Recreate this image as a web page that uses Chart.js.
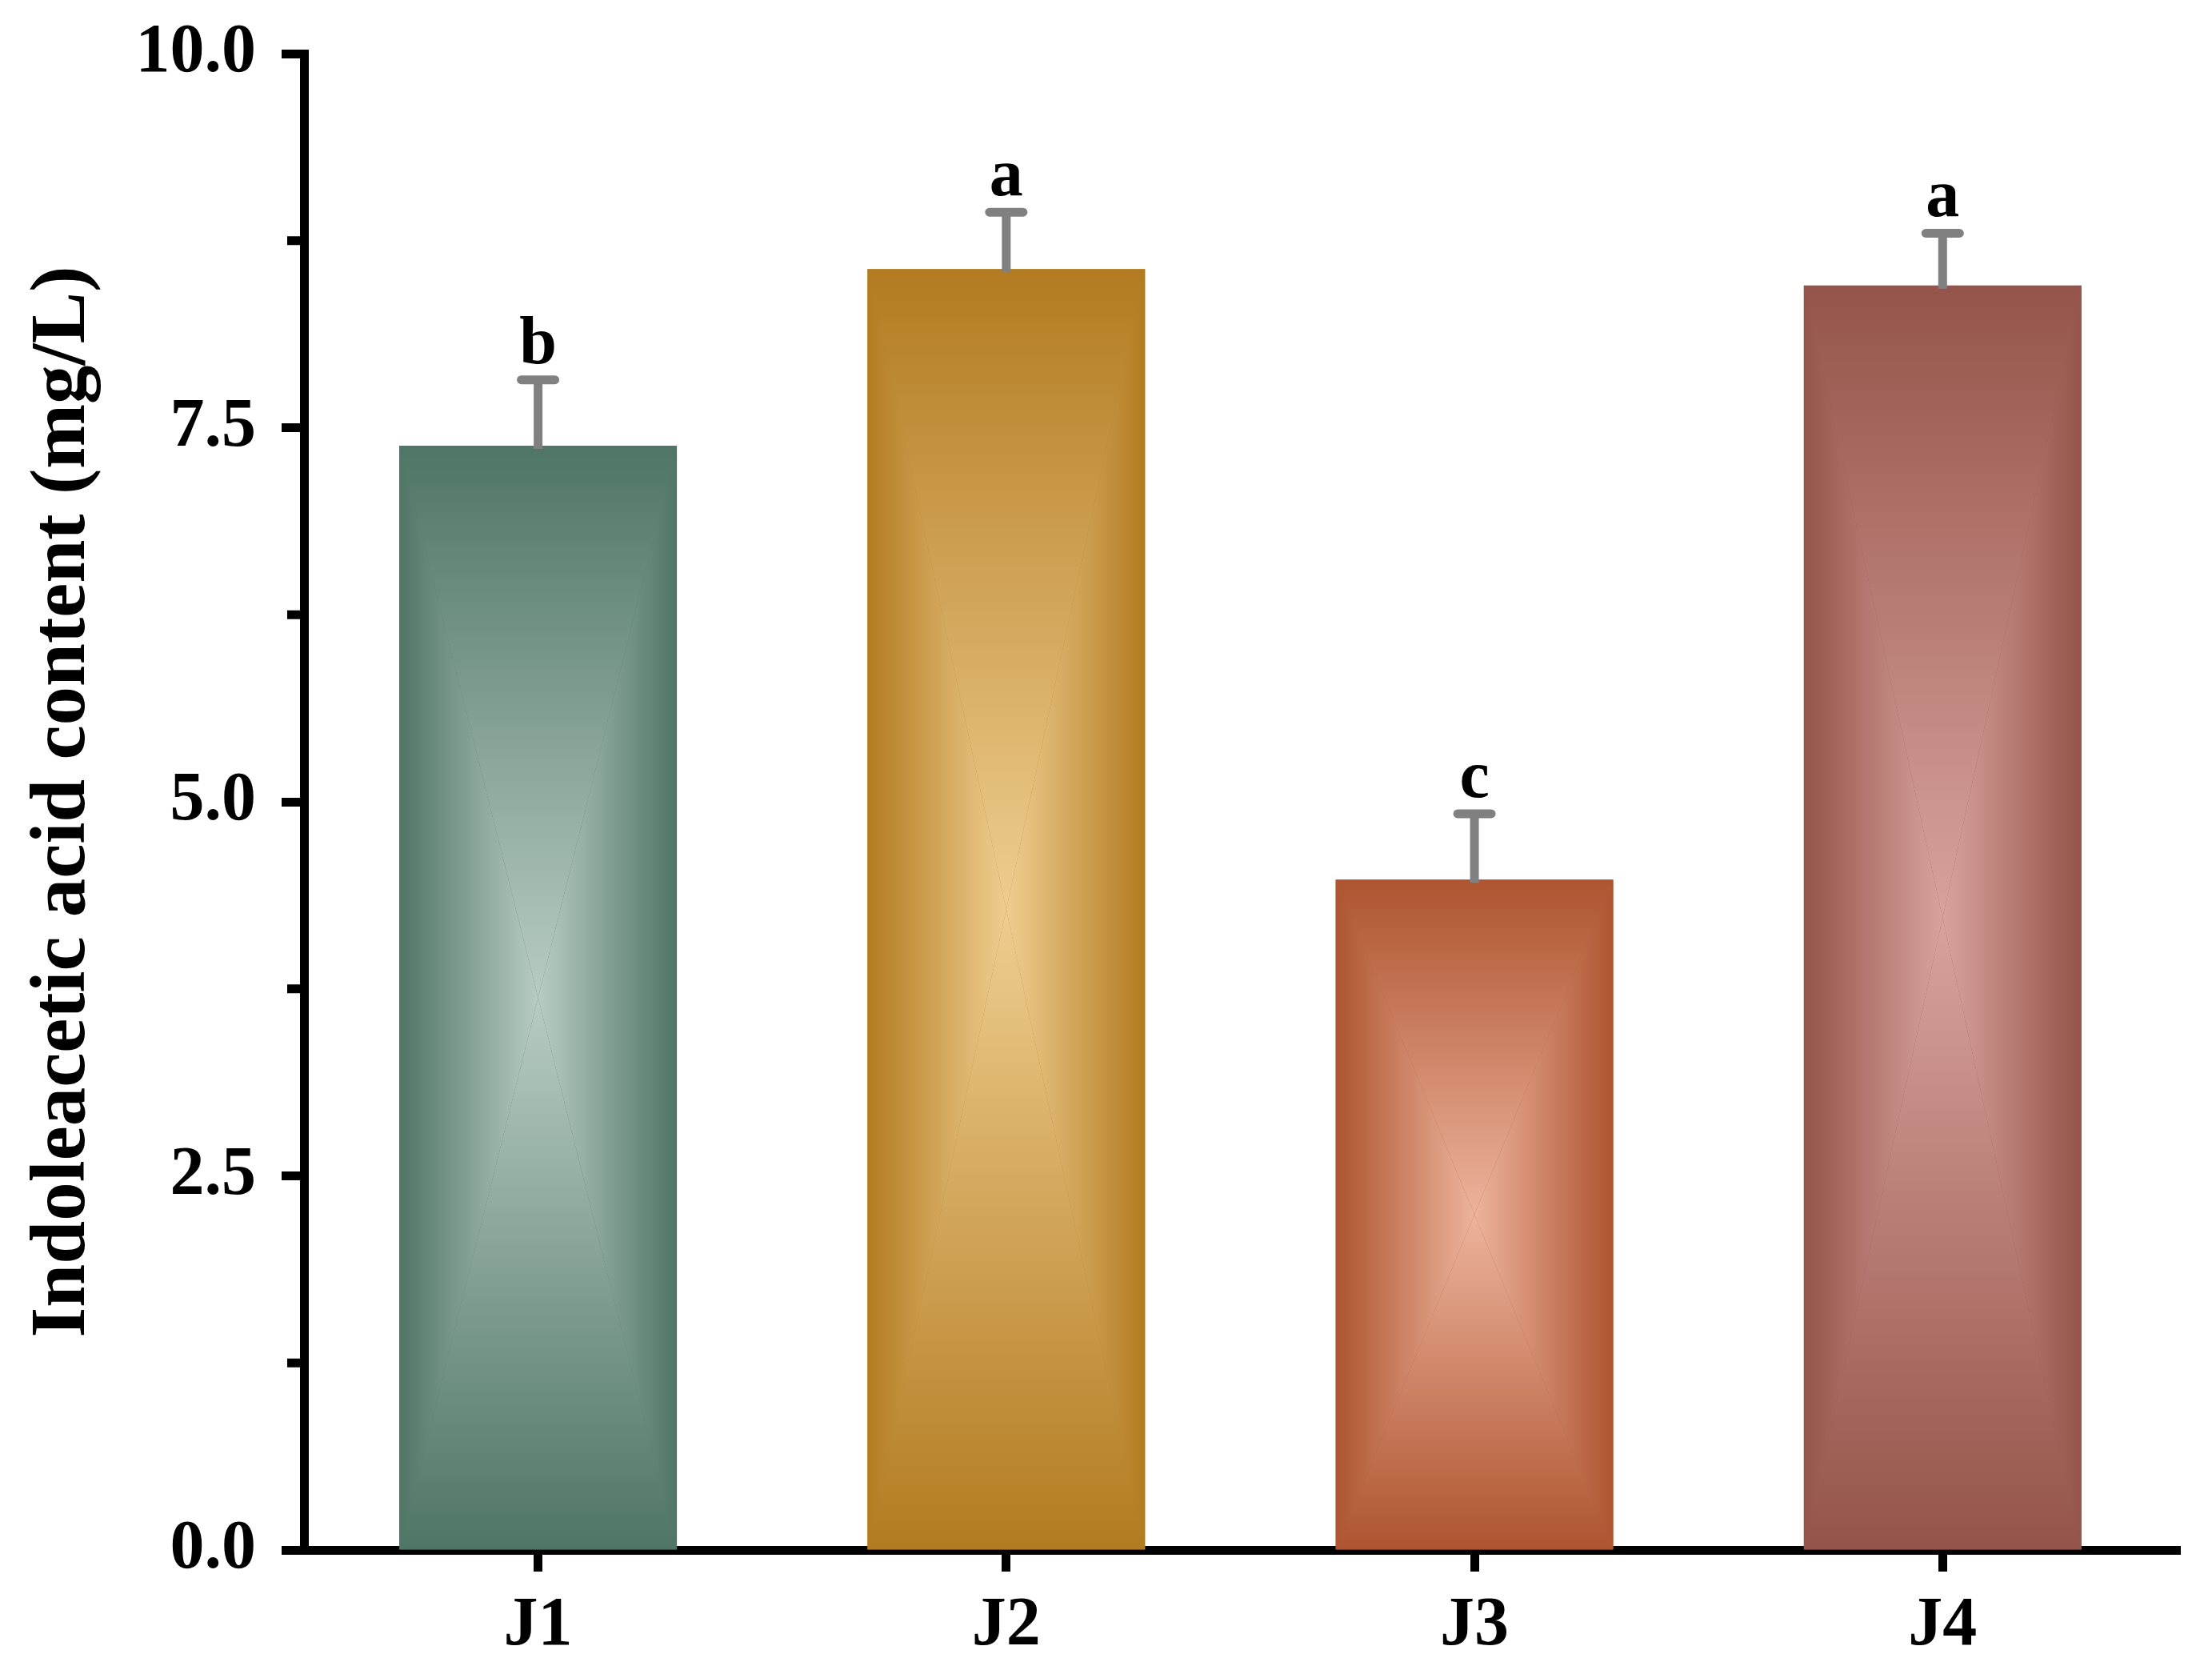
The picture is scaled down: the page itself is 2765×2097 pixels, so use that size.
<!DOCTYPE html>
<html>
<head>
<meta charset="utf-8">
<script src="https://cdn.jsdelivr.net/npm/chart.js@4.4.1/dist/chart.umd.min.js"></script>
<style>
  html,body{margin:0;padding:0;background:#fff;}
  canvas{display:block;}
</style>
</head>
<body>
<canvas id="iaa" width="2765" height="2097"></canvas>
<script>
// data
const groups = ['J1', 'J2', 'J3', 'J4'];
const iaaMeans = [7.38, 8.56, 4.48, 8.45];
const iaaErrors = [0.44, 0.38, 0.44, 0.35];
const sigLetters = ['b', 'a', 'c', 'a'];
const yTicks = [0, 2.5, 5, 7.5, 10];
const yMinorTicks = [1.25, 3.75, 6.25, 8.75];

// bar colours: edge (dark) and centre (light)
const edgeColors = ['#4e7565', '#b27b20', '#ae5430', '#945449'];
const centerColors = ['#b8ccc1', '#efcd8f', '#ecb39b', '#d8a39d'];

const FONT = '"Liberation Serif", "Times New Roman", serif';

// rectangle gradient over each bar (dark edges -> light centre)
const barShade = {
  id: 'barShade',
  afterDatasetsDraw(chart){
    const ctx = chart.ctx;
    const meta = chart.getDatasetMeta(0);
    meta.data.forEach((bar, i)=>{
      const p = bar.getProps(['x','y','base','width'], true);
      const L = p.x - p.width/2, R = p.x + p.width/2, T = p.y, B = p.base;
      const cx = p.x, cy = (T + B)/2;
      const tri = (pts, g)=>{
        ctx.beginPath();
        ctx.moveTo(pts[0][0], pts[0][1]);
        ctx.lineTo(pts[1][0], pts[1][1]);
        ctx.lineTo(pts[2][0], pts[2][1]);
        ctx.closePath();
        ctx.fillStyle = g; ctx.fill();
      };
      const grad = (x0,y0,x1,y1)=>{
        const g = ctx.createLinearGradient(x0,y0,x1,y1);
        g.addColorStop(0, edgeColors[i]);
        g.addColorStop(1, centerColors[i]);
        return g;
      };
      ctx.save();
      ctx.beginPath(); ctx.rect(L, T, R-L, B-T); ctx.clip();
      tri([[L,T],[R,T],[cx,cy]], grad(cx,T,cx,cy));
      tri([[L,B],[R,B],[cx,cy]], grad(cx,B,cx,cy));
      tri([[L,T],[L,B],[cx,cy]], grad(L,cy,cx,cy));
      tri([[R,T],[R,B],[cx,cy]], grad(R,cy,cx,cy));
      ctx.restore();
    });
  }
};

// upper error bars, significance letters, minor y ticks
const annotations = {
  id: 'annotations',
  afterDraw(chart){
    const ctx = chart.ctx;
    const ys = chart.scales.y;
    const meta = chart.getDatasetMeta(0);
    ctx.save();
    ctx.strokeStyle = '#808080';
    ctx.lineWidth = 11;
    meta.data.forEach((bar, i)=>{
      const x = bar.x;
      const y0 = ys.getPixelForValue(iaaMeans[i]);
      const y1 = ys.getPixelForValue(iaaMeans[i] + iaaErrors[i]);
      ctx.beginPath();
      ctx.lineCap = 'butt';
      ctx.moveTo(x, y0 + 4); ctx.lineTo(x, y1);
      ctx.stroke();
      ctx.lineCap = 'round';
      ctx.beginPath();
      ctx.moveTo(x - 21, y1); ctx.lineTo(x + 21, y1);
      ctx.stroke();
      ctx.fillStyle = '#000';
      ctx.font = 'bold 84px ' + FONT;
      ctx.textAlign = 'center';
      ctx.textBaseline = 'alphabetic';
      ctx.fillText(sigLetters[i], x, y1 - 21);
    });
    // minor ticks on the y axis
    ctx.strokeStyle = '#000';
    ctx.lineWidth = 11;
    ctx.lineCap = 'butt';
    const ax = chart.chartArea.left - 5;
    yMinorTicks.forEach(v=>{
      const y = ys.getPixelForValue(v);
      ctx.beginPath(); ctx.moveTo(ax, y); ctx.lineTo(ax - 16, y); ctx.stroke();
    });
    ctx.restore();
  }
};

new Chart(document.getElementById('iaa'), {
  type: 'bar',
  data: {
    datasets: [{
      data: iaaMeans.map((v, i)=>({ x: i + 1, y: v })),
      backgroundColor: edgeColors,
      borderWidth: 0,
      categoryPercentage: 1,
      barPercentage: 0.593
    }]
  },
  options: {
    responsive: false,
    animation: false,
    layout: { padding: { top: 67, right: 40, left: 0, bottom: 0 } },
    plugins: { legend: { display: false }, tooltip: { enabled: false } },
    scales: {
      x: {
        type: 'linear',
        min: 0.5, max: 4.507,
        offset: false,
        grid: { offset: false, drawOnChartArea: false, tickLength: 27, tickWidth: 11, tickColor: '#000' },
        border: { display: true, color: '#000', width: 11 },
        ticks: {
          stepSize: 1, includeBounds: false, padding: 17, color: '#000',
          font: { family: FONT, weight: 'bold', size: 86 },
          callback: (v)=> groups[v - 1] || ''
        },
        afterFit: (s)=>{ s.height = 160; }
      },
      y: {
        min: 0, max: 10,
        grid: { drawOnChartArea: false, tickLength: 28, tickWidth: 11, tickColor: '#000' },
        border: { display: true, color: '#000', width: 11 },
        afterBuildTicks: (s)=>{ s.ticks = yTicks.map(v=>({ value: v })); },
        ticks: {
          padding: 32, color: '#000',
          font: { family: FONT, weight: 'bold', size: 86, lineHeight: 0.4 },
          callback: (v)=> Number(v).toFixed(1)
        },
        title: {
          display: true, text: 'Indoleacetic acid content (mg/L)', color: '#000',
          font: { family: FONT, weight: 'bold', size: 97 },
          padding: { top: 22, bottom: 0 }
        },
        afterFit: (s)=>{ s.width = 380; }
      }
    }
  },
  plugins: [barShade, annotations]
});
</script>
</body>
</html>
